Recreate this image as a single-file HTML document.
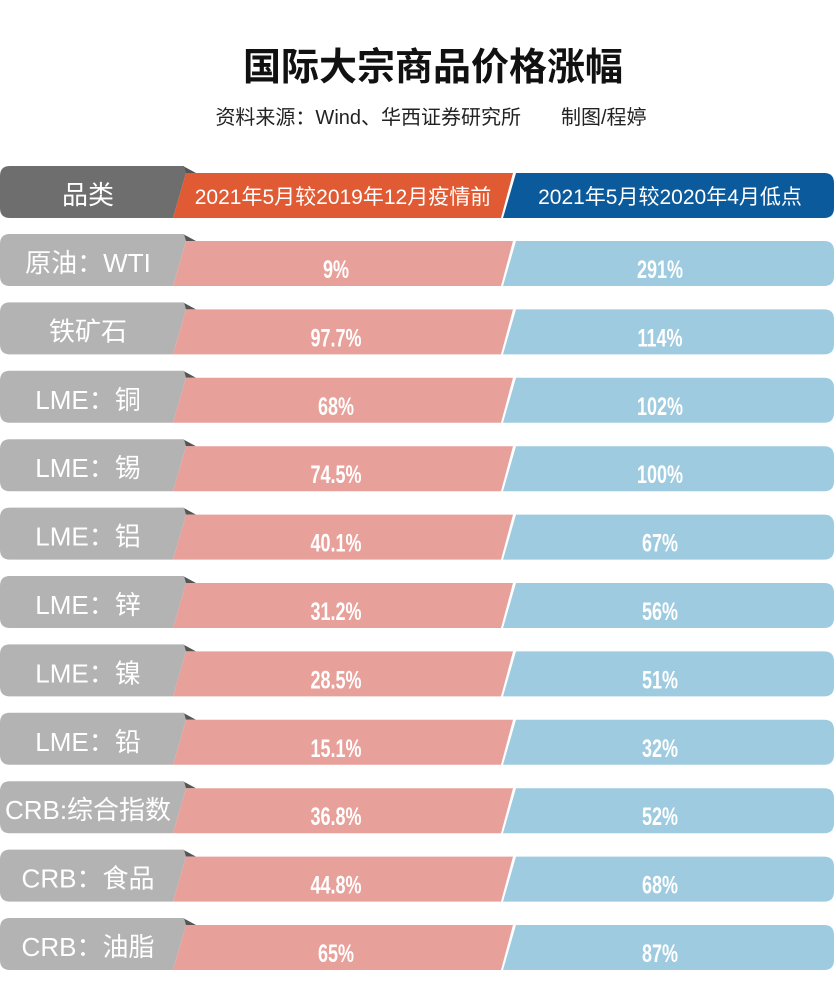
<!DOCTYPE html>
<html><head><meta charset="utf-8">
<style>
html,body{margin:0;padding:0;background:#fff;}
body{width:836px;height:1000px;overflow:hidden;font-family:"Liberation Sans","Noto Sans CJK SC",sans-serif;}
</style></head>
<body>
<svg id="chart" width="836" height="1000" xmlns="http://www.w3.org/2000/svg" font-family="Liberation Sans, Noto Sans CJK SC, sans-serif">
<text x="433" y="80" text-anchor="middle" font-size="38" font-weight="bold" fill="#111">国际大宗商品价格涨幅</text>
<text x="431" y="124" text-anchor="middle" font-size="20" fill="#222">资料来源：Wind、华西证券研究所　　制图/程婷</text>
<g id="rows"></g>
</svg>
<script>
const categories = ["原油：WTI","铁矿石","LME：铜","LME：锡","LME：铝","LME：锌","LME：镍","LME：铅","CRB:综合指数","CRB：食品","CRB：油脂"];
const vsPrePandemic = ["9%","97.7%","68%","74.5%","40.1%","31.2%","28.5%","15.1%","36.8%","44.8%","65%"];
const vsApril2020Low = ["291%","114%","102%","100%","67%","56%","51%","32%","52%","68%","87%"];
const headers = ["品类","2021年5月较2019年12月疫情前","2021年5月较2020年4月低点"];

const NS="http://www.w3.org/2000/svg";
const g=document.getElementById('rows');
function mk(tag,attrs,parent){const e=document.createElementNS(NS,tag);for(const k in attrs)e.setAttribute(k,attrs[k]);parent.appendChild(e);return e;}
function row(top,c,texts,isHeader,nameBase){
  const grp=mk('g',{},g);
  
  
  const bt=top+7, bb=top+52;
  mk('path',{d:`M183 ${top} L196 ${bt} L183 ${bt} Z`,fill:'#555'},grp);
  const gp=mk('path',{d:`M10 ${top} L184 ${top} L186 ${bt} L173 ${bb} L10 ${bb} Q0 ${bb} 0 ${bb-10} L0 ${top+10} Q0 ${top} 10 ${top} Z`,fill:c[0]},grp);
  
  
  const p1=mk('path',{d:`M186 ${bt} L513 ${bt} L501 ${bb} L173 ${bb} Z`,fill:c[1]},grp);
  
  
  const p2=mk('path',{d:`M516 ${bt} L824 ${bt} Q834 ${bt} 834 ${bt+10} L834 ${bb-10} Q834 ${bb} 824 ${bb} L503 ${bb} Z`,fill:c[2]},grp);
  
  
  const ly=isHeader?top+38:top+38;
  const t0=mk('text',{x:88,y:ly,'text-anchor':'middle','font-size':26,fill:'#fff'},grp);
  t0.textContent=texts[0];
  
  
  const vy=isHeader?top+38:top+44;
  const fs=isHeader?21:25;
  const fw=isHeader?'normal':'bold';
  const t1=mk('text',{x:isHeader?343:336,y:vy,'text-anchor':'middle','font-size':fs,'font-weight':fw,fill:'#fff'},grp);
  if(!isHeader)t1.setAttribute('transform',`translate(336 ${vy}) scale(0.72 1) translate(-336 ${-vy})`);
  t1.textContent=texts[1];
  
  
  const t2=mk('text',{x:isHeader?670:660,y:vy,'text-anchor':'middle','font-size':fs,'font-weight':fw,fill:'#fff'},grp);
  if(!isHeader)t2.setAttribute('transform',`translate(660 ${vy}) scale(0.72 1) translate(-660 ${-vy})`);
  t2.textContent=texts[2];
  
  
}
row(166,['#6e6e6e','#e05a33','#0b5a9c'],headers,true,'header-row');
categories.forEach((c,i)=>{
  row(234+i*68.4,['#b3b3b3','#e8a09a','#9ecbdf'],[c,vsPrePandemic[i],vsApril2020Low[i]],false,'row-'+i);
});
</script>
</body></html>
